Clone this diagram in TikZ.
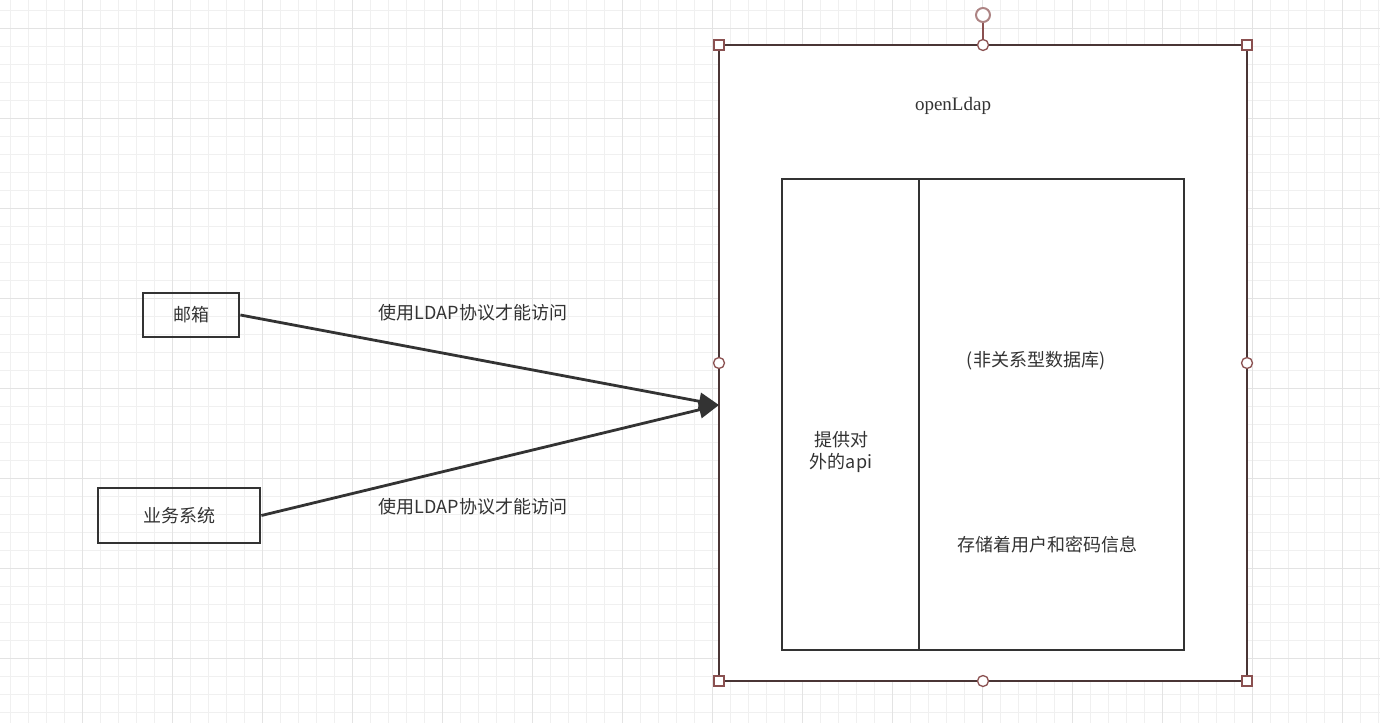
\documentclass[tikz,border=0pt]{standalone}
\usepackage{fontspec}
\setmainfont{Liberation Serif}
\newfontfamily\cjk{Noto Sans CJK SC}
\usetikzlibrary{arrows.meta}
\definecolor{edge}{HTML}{333333}
\definecolor{sel}{HTML}{4A3535}
\definecolor{hdl}{HTML}{8A5050}
\begin{document}
\begin{tikzpicture}[x=1pt,y=-1pt,
  box/.style={draw=edge,line width=2.8pt},
  lbl/.style={font=\cjk\fontsize{18}{22}\selectfont,text=edge,align=center},
  conn/.style={draw=edge,line width=2.8pt,-{Triangle[length=20pt,width=17pt]}},
  hsq/.style={draw=hdl,fill=white,line width=1.3pt,minimum size=10pt,inner sep=0pt},
  hci/.style={draw=hdl,fill=white,line width=1.3pt,circle,minimum size=11pt,inner sep=0pt}]
\useasboundingbox (0,0) rectangle (1380,723);
\fill[white] (0,0) rectangle (1380,723);
\foreach \x in {10,28,...,1380} \draw[black!6,line width=0.8pt] (\x,0) -- (\x,723);
\foreach \y in {10,28,...,723} \draw[black!6,line width=0.8pt] (0,\y) -- (1380,\y);
\foreach \x in {82,172,...,1380} \draw[black!11,line width=1pt] (\x,0) -- (\x,723);
\foreach \y in {28,118,...,723} \draw[black!11,line width=1pt] (0,\y) -- (1380,\y);
% outer
\draw[sel,line width=2.8pt,fill=white] (719,45) rectangle (1247,681);
\node[font=\fontsize{19}{22}\selectfont,text=edge] (ol) at (953,106) {openLdap};
\draw[box] (782,179) rectangle (1184,650);
\draw[box] (919,179) -- (919,650);
\node[lbl] (api) at (841,452) {提供对\\外的api};
\node[lbl] (db) at (1036,361) {(非关系型数据库)};
\node[lbl] (st) at (1047,545) {存储着用户和密码信息};
% left boxes
\node[box,minimum width=96pt,minimum height=44pt,lbl] (mail) at (191,315) {邮箱};
\node[box,minimum width=162pt,minimum height=55pt,lbl] (biz) at (179,515.5) {业务系统};
\coordinate (tgt) at (719,405);
\draw[conn] (mail.east) -- (tgt);
\draw[conn] (biz.east) -- (tgt);
\node[lbl] (l1) at (473,313) {使用LDAP协议才能访问};
\node[lbl] (l2) at (473,507) {使用LDAP协议才能访问};
% handles
\draw[hdl,line width=1.3pt] (983,22) -- (983,45);
\node[hci,minimum size=14pt,line width=2pt,draw=hdl!70] (rot) at (983,15) {};
\foreach \p in {(719,45),(1247,45),(719,681),(1247,681)} \node[hsq] at \p {};
\foreach \p in {(983,45),(719,363),(1247,363),(983,681)} \node[hci] at \p {};
\end{tikzpicture}
\end{document}
